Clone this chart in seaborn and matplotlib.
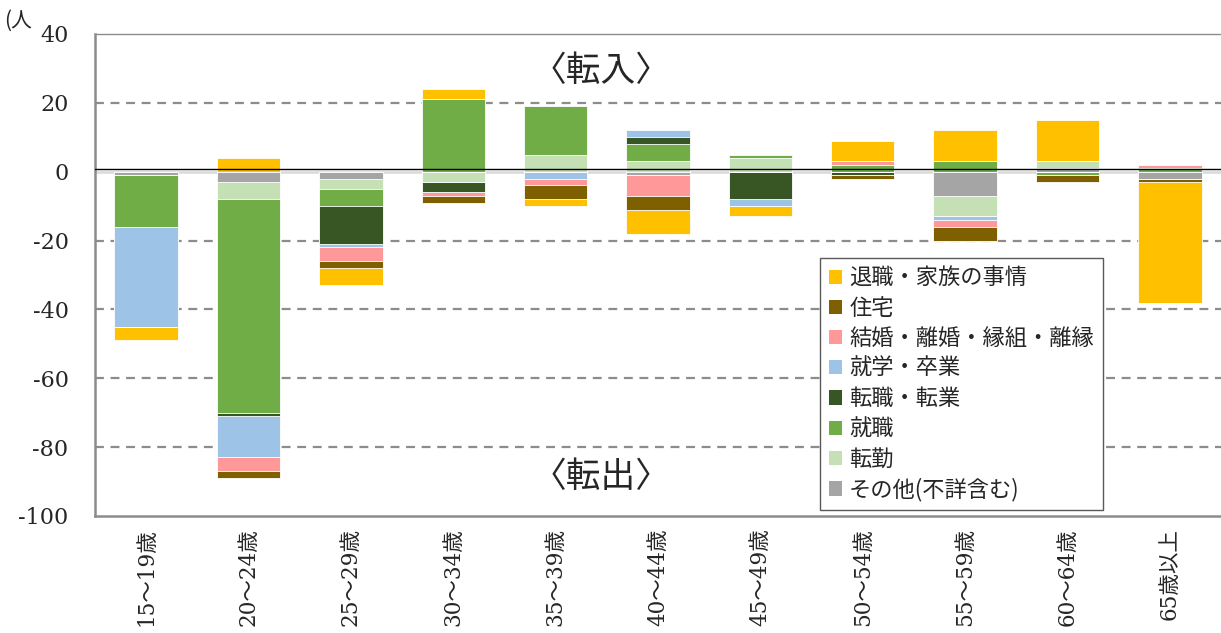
import numpy as np
import pandas as pd
import matplotlib
matplotlib.use("Agg")
import matplotlib.pyplot as plt
from matplotlib.patches import Patch
import seaborn as sns

# ---- data ----
categories = ["15～19歳", "20～24歳", "25～29歳", "30～34歳", "35～39歳", "40～44歳",
              "45～49歳", "50～54歳", "55～59歳", "60～64歳", "65歳以上"]
# stacking order (from zero outward)
series_names = ["その他(不詳含む)", "転勤", "就職", "転職・転業", "就学・卒業",
                "結婚・離婚・縁組・離縁", "住宅", "退職・家族の事情"]
sonota  = [-1, -3, -2, 0, 0, -1, 0, 0, -7, 1, -2]
tenkin  = [0, -5, -3, -3, 5, 3, 4, 0, -6, 2, 0]
shushoku = [-15, -62, -5, 21, 14, 5, 1, 2, 3, -1, 1]
tenshoku = [0, -1, -11, -3, 0, 2, -8, -1, 0, 0, 0]
shugaku = [-29, -12, -1, 0, -2, 2, -2, 0, -1, 0, 0]
kekkon  = [0, -4, -4, -1, -2, -6, 0, 1, -2, 0, 1]
jutaku  = [0, -2, -2, -2, -4, -4, 0, -1, -4, -2, -1]
taishoku = [-4, 4, -5, 3, -2, -7, -3, 6, 9, 12, -35]
series_values = [sonota, tenkin, shushoku, tenshoku, shugaku, kekkon, jutaku, taishoku]
series_colors = ["#A5A5A5", "#C5E0B4", "#70AD47", "#375623", "#9DC3E6",
                 "#FF9999", "#7F6000", "#FFC000"]

yticks = [40, 20, 0, -20, -40, -60, -80, -100]

# ---- style ----
sns.set_theme(style="white")
plt.rcParams["font.family"] = ["DejaVu Serif", "Noto Sans CJK JP", "DejaVu Sans"]
cjk = ["Noto Sans CJK JP", "DejaVu Sans"]

fig = plt.figure(figsize=(12.21, 6.33), dpi=100)
ax = fig.add_axes([95/1221, 1-516/633, 1-95/1221, (516-34)/633])

vals = np.array(series_values, dtype=float)
pos = np.clip(vals, 0, None).cumsum(axis=0)
neg = np.clip(vals, None, 0).cumsum(axis=0)

# draw outermost first so inner layers overlay
for i in range(len(series_names) - 1, -1, -1):
    for cum in (pos, neg):
        df = pd.DataFrame({"cat": categories, "v": cum[i]})
        sns.barplot(data=df, x="cat", y="v", order=categories, color=series_colors[i],
                    saturation=1, width=0.62, edgecolor="white", linewidth=0.6,
                    ax=ax, errorbar=None)

ax.set_ylim(-100, 40)
ax.set_xlim(-0.5, len(categories) - 0.5)
ax.set_yticks(yticks)
ax.set_yticklabels([str(t) for t in yticks], fontsize=16)
ax.set_xlabel("")
ax.set_ylabel("")
ax.set_xticks(range(len(categories)))
ax.set_xticklabels(categories, rotation=90, fontsize=15.5,
                   family=["DejaVu Serif"] + cjk)
ax.tick_params(axis="x", length=0, pad=9)
ax.tick_params(axis="y", length=0, pad=19)

for t in [20, -20, -40, -60, -80]:
    ax.axhline(t, color="#8c8c8c", linestyle=(0, (4, 3)), linewidth=1.6, zorder=0)
ax.axhline(0, color="#d9d9d9", linewidth=1.8, zorder=0.5)
ax.axhline(0.8, color="black", linewidth=1.0, zorder=5)

for s in ["left", "bottom", "top"]:
    ax.spines[s].set_visible(True)
    ax.spines[s].set_color("#8c8c8c")
    ax.spines[s].set_linewidth(1.8)
ax.spines["top"].set_linewidth(1.0)
ax.spines["right"].set_visible(False)

ax.text(4.44, 29, "〈転入〉", ha="center", va="center", fontsize=25, family=cjk)
ax.text(4.44, -88.7, "〈転出〉", ha="center", va="center", fontsize=25, family=cjk)
fig.text(4/1221, 1-21/633, "(人", ha="left", va="center", fontsize=15, family=cjk)

handles = [Patch(facecolor=series_colors[i], edgecolor="none", label=series_names[i])
           for i in range(len(series_names) - 1, -1, -1)]
leg = ax.legend(handles=handles, loc="lower left",
                bbox_to_anchor=(0.644, 0.012, 0.251, 0.504),
                mode="expand", frameon=True, fancybox=False, framealpha=1,
                handlelength=0.6, handleheight=0.6, handletextpad=0.3,
                labelspacing=0.32, borderpad=0.4, borderaxespad=0,
                prop={"family": cjk, "size": 16})
leg.get_frame().set_edgecolor("#595959")
leg.get_frame().set_linewidth(1.0)

fig.savefig("out.png", dpi=100)
